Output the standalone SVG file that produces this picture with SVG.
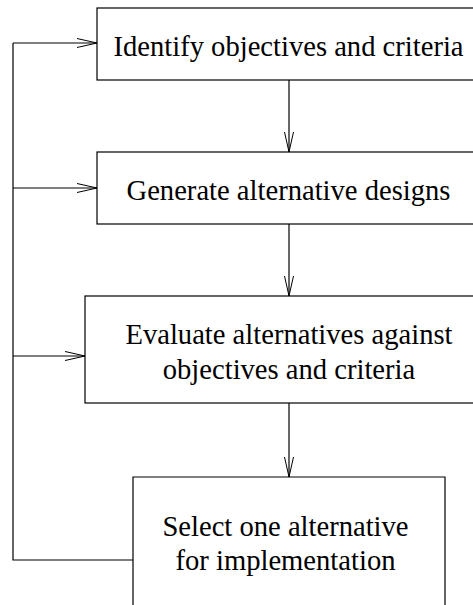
<svg xmlns="http://www.w3.org/2000/svg" width="473" height="605" viewBox="0 0 473 605">
  <defs>
    <!-- open V arrowhead -->
    <marker id="vee" markerUnits="userSpaceOnUse" markerWidth="24" markerHeight="12" refX="20" refY="5" orient="auto" overflow="visible">
      <path d="M0,0.5 L20,5 L0,9.5" fill="none" stroke="#000" stroke-width="1"/>
    </marker>
  </defs>
  <style>
    .box { fill: #fff; stroke: #000; stroke-width: 1.2; }
    .lbl { font-family: 'Liberation Serif', 'Times New Roman', Tinos, serif; font-size: 28.6px; fill: #000; text-anchor: middle; }
    .wire { fill: none; stroke: #000; stroke-width: 1.2; }
    .arrow { fill: none; stroke: #000; stroke-width: 1.2; marker-end: url(#vee); }
  </style>

  <g id="connectors">
    <!-- downward flow between steps -->
    <line class="arrow" x1="289" y1="80" x2="289" y2="152"/>
    <line class="arrow" x1="289" y1="224" x2="289" y2="296"/>
    <line class="arrow" x1="289" y1="403" x2="289" y2="477"/>
    <!-- feedback loop from the last step back to the earlier ones -->
    <polyline class="wire" points="133,560 13,560 13,43"/>
    <line class="arrow" x1="13" y1="43" x2="97" y2="43"/>
    <line class="arrow" x1="13" y1="188" x2="97" y2="188"/>
    <line class="arrow" x1="13" y1="356" x2="85" y2="356"/>
  </g>

  <g id="identify">
    <rect class="box" x="97" y="8" width="400" height="72"/>
    <text class="lbl" x="288.5" y="56">Identify objectives and criteria</text>
  </g>

  <g id="generate">
    <rect class="box" x="97" y="152" width="400" height="72"/>
    <text class="lbl" x="288.5" y="200">Generate alternative designs</text>
  </g>

  <g id="evaluate">
    <rect class="box" x="85" y="296" width="420" height="107"/>
    <text class="lbl" x="289" y="344">Evaluate alternatives against</text>
    <text class="lbl" x="289" y="379">objectives and criteria</text>
  </g>

  <g id="select">
    <path class="box" d="M133,610 L133,477 L445,477 L445,610"/>
    <text class="lbl" x="285.5" y="536">Select one alternative</text>
    <text class="lbl" x="285.5" y="570">for implementation</text>
  </g>
</svg>
